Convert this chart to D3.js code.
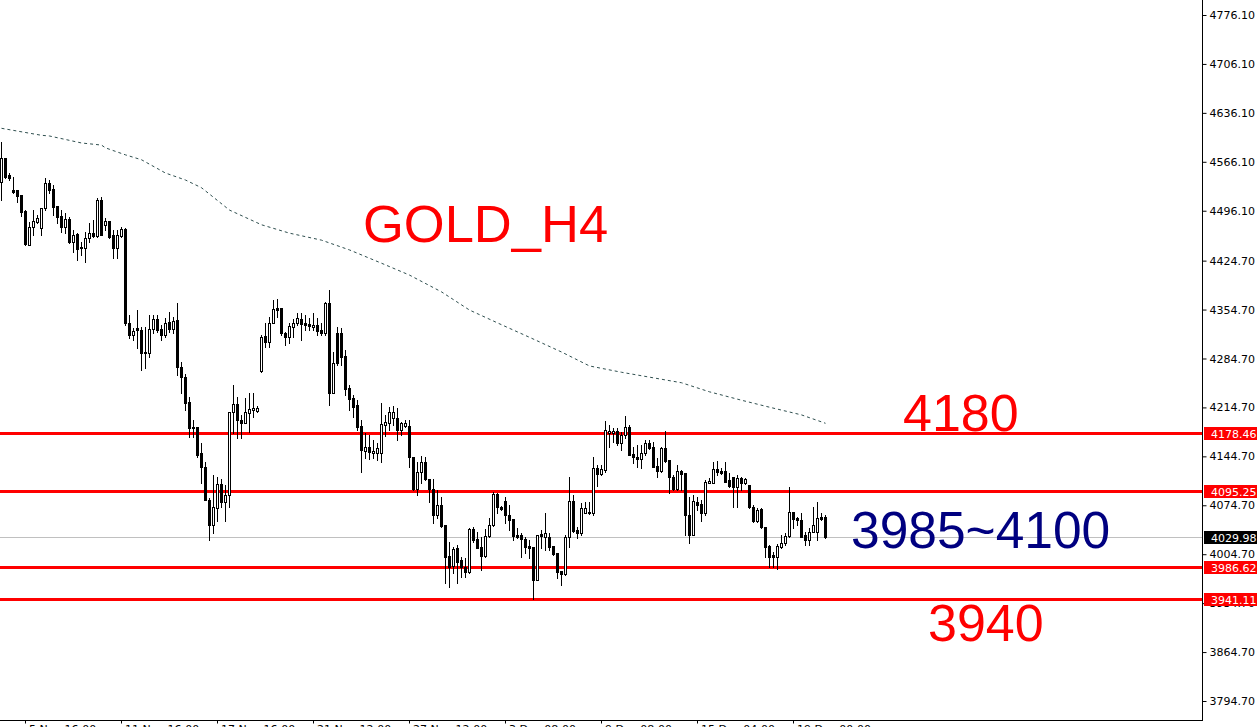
<!DOCTYPE html>
<html>
<head>
<meta charset="utf-8">
<script src="https://cdn.jsdelivr.net/npm/d3@7"></script>
<style>
  html, body { margin: 0; padding: 0; background: #fff; overflow: hidden; }
  svg { display: block; }
</style>
</head>
<body>
<svg id="chart"></svg>
<script>
// H4 candles, [open, high, low, close]
var ohlc = [
  [4537,4594,4512,4572],[4572,4572,4543,4544],[4547,4550,4540,4543],[4526,4544,4521,4523],[4526,4526,4509,4517],
  [4519,4519,4489,4494],[4496,4497,4447,4449],[4447,4480,4447,4473],[4473,4497,4461,4481],[4480,4490,4479,4486],
  [4471,4500,4461,4500],[4500,4543,4497,4536],[4536,4540,4521,4526],[4527,4533,4490,4501],[4503,4503,4479,4487],
  [4489,4497,4466,4473],[4473,4493,4464,4484],[4484,4487,4450,4451],[4451,4469,4437,4461],[4463,4464,4426,4441],
  [4444,4451,4433,4443],[4443,4466,4423,4457],[4457,4479,4451,4464],[4464,4483,4459,4460],[4460,4514,4459,4512],
  [4512,4516,4461,4461],[4476,4486,4469,4481],[4481,4481,4457,4459],[4461,4469,4428,4443],[4443,4469,4428,4461],
  [4460,4473,4459,4470],[4470,4471,4333,4335],[4335,4347,4314,4318],[4318,4328,4311,4324],[4328,4354,4300,4325],
  [4325,4330,4268,4293],[4294,4330,4271,4293],[4293,4347,4287,4327],[4327,4347,4321,4341],[4341,4347,4323,4325],
  [4327,4333,4311,4318],[4318,4342,4315,4335],[4337,4351,4323,4327],[4327,4344,4321,4338],[4340,4364,4261,4273],
  [4273,4280,4235,4258],[4258,4263,4211,4221],[4222,4230,4172,4185],[4187,4197,4172,4185],[4187,4187,4144,4147],
  [4150,4164,4107,4130],[4130,4137,4082,4082],[4082,4085,4025,4047],[4047,4118,4035,4072],[4071,4115,4052,4105],
  [4105,4112,4072,4079],[4079,4104,4052,4089],[4089,4208,4072,4208],[4208,4247,4178,4220],[4220,4230,4171,4197],
  [4197,4204,4171,4192],[4192,4228,4192,4208],[4207,4235,4180,4212],[4211,4235,4201,4214],[4210,4217,4208,4214],
  [4267,4318,4265,4315],[4317,4336,4301,4308],[4308,4344,4301,4336],[4336,4368,4336,4356],[4357,4370,4344,4354],
  [4357,4357,4318,4321],[4321,4323,4304,4315],[4315,4336,4307,4331],[4330,4341,4315,4336],[4336,4350,4333,4343],
  [4341,4350,4311,4334],[4336,4347,4325,4333],[4334,4343,4325,4331],[4330,4350,4325,4333],[4333,4343,4318,4324],
  [4325,4336,4318,4321],[4321,4366,4318,4364],[4364,4383,4218,4235],[4235,4294,4235,4278],[4321,4330,4275,4278],
  [4321,4328,4275,4287],[4288,4297,4233,4241],[4243,4247,4211,4227],[4228,4233,4201,4215],[4218,4225,4182,4187],
  [4188,4197,4122,4154],[4152,4178,4142,4158],[4158,4175,4141,4151],[4150,4168,4142,4152],[4150,4164,4140,4157],
  [4150,4221,4137,4191],[4190,4204,4174,4194],[4192,4215,4182,4208],[4200,4217,4190,4208],[4200,4214,4168,4182],
  [4182,4194,4175,4192],[4188,4197,4187,4192],[4188,4197,4130,4144],[4144,4144,4097,4098],[4098,4137,4089,4122],
  [4122,4145,4107,4137],[4137,4144,4111,4112],[4112,4112,4079,4098],[4098,4112,4049,4061],[4061,4097,4057,4075],
  [4075,4087,4044,4045],[4047,4047,3964,4001],[4002,4022,3958,3987],[3988,4015,3978,4012],[4014,4018,3964,3994],
  [3997,4001,3972,3987],[3987,3999,3972,3979],[3979,4042,3978,4041],[4041,4044,4022,4025],[4027,4037,4014,4014],
  [4015,4029,3982,4002],[4002,4041,4001,4031],[4031,4057,4029,4047],[4047,4094,4045,4091],[4091,4092,4064,4072],
  [4072,4074,4068,4069],[4081,4087,4049,4061],[4061,4075,4039,4054],[4055,4055,4025,4031],[4032,4042,4028,4029],
  [4032,4035,4001,4027],[4027,4029,4007,4015],[4017,4025,3999,4014],[4015,4015,3941,3968],[3968,4032,3968,4032],
  [4034,4039,4014,4031],[4029,4064,4011,4035],[4029,4035,4011,4015],[4017,4017,4004,4005],[4007,4007,3971,3979],
  [3981,3981,3961,3977],[3977,4032,3975,4029],[4029,4115,4015,4081],[4081,4089,4037,4038],[4039,4044,4028,4035],
  [4035,4078,4032,4071],[4064,4079,4064,4071],[4064,4079,4062,4065],[4064,4144,4061,4128],[4128,4132,4102,4120],
  [4120,4132,4118,4127],[4125,4195,4122,4182],[4178,4190,4158,4181],[4178,4185,4165,4181],[4181,4185,4161,4164],
  [4164,4180,4154,4175],[4175,4203,4171,4187],[4187,4190,4147,4147],[4148,4158,4135,4144],[4144,4161,4130,4141],
  [4141,4161,4128,4150],[4150,4168,4147,4164],[4164,4168,4155,4157],[4158,4165,4130,4130],[4131,4142,4115,4124],
  [4124,4158,4122,4157],[4157,4181,4137,4138],[4140,4140,4092,4115],[4115,4118,4097,4098],[4098,4132,4097,4124],
  [4124,4125,4097,4120],[4121,4121,4032,4061],[4061,4087,4021,4032],[4032,4089,4032,4081],[4079,4087,4068,4075],
  [4077,4082,4052,4064],[4064,4111,4061,4108],[4107,4114,4106,4110],[4107,4137,4106,4127],[4127,4138,4118,4122],
  [4124,4128,4120,4121],[4124,4137,4108,4108],[4111,4121,4101,4102],[4115,4115,4072,4101],[4101,4118,4072,4114],
  [4114,4115,4097,4107],[4107,4114,4105,4112],[4104,4104,4071,4072],[4072,4075,4051,4052],[4052,4071,4051,4068],
  [4069,4071,4042,4044],[4044,4044,4001,4015],[4017,4018,3987,4001],[4004,4008,3987,4001],[4001,4019,3984,4017],
  [4015,4032,4014,4021],[4021,4035,4018,4031],[4031,4101,4029,4065],[4065,4065,4042,4055],[4057,4058,4047,4054],
  [4054,4064,4029,4029],[4032,4036,4018,4025],[4025,4042,4018,4036],[4036,4072,4036,4047],[4036,4079,4025,4057],
  [4058,4064,4054,4055],[4058,4061,4028,4030]
];

// moving average, [bar index, value]
var maPoints = [
  [0,4614],[4,4610],[10,4604],[12,4603],[20,4593],[25,4590],[26,4586],[31,4576],[35,4569],[41,4550],
  [46,4540],[50,4529],[57,4497],[65,4476],[72,4464],[80,4454],[87,4440],[95,4421],[102,4404],[110,4380],
  [117,4354],[125,4333],[132,4315],[140,4294],[147,4274],[155,4265],[162,4258],[170,4250],[177,4237],
  [185,4225],[192,4215],[200,4204],[206,4192]
];

var levels = [4178.46, 4095.25, 3986.62, 3941.11];
var lastPrice = 4029.98;
var priceTicks = [4776.10, 4706.10, 4636.10, 4566.10, 4496.10, 4424.70, 4354.70, 4284.70,
  4214.70, 4144.70, 4074.70, 4004.70, 3934.70, 3864.70, 3794.70];
var timeTickBars = [6, 30, 54, 78, 102, 126, 150, 174, 198];
var timeTickLabels = ["5 Nov 16:00", "11 Nov 16:00", "17 Nov 16:00", "21 Nov 12:00", "27 Nov 12:00",
  "3 Dec 08:00", "9 Dec 08:00", "15 Dec 04:00", "19 Dec 00:00"];

var width = 1257, height = 727;
var axisX = 1202, axisY = 720;

var svg = d3.select("#chart").attr("width", width).attr("height", height);

var x = d3.scaleLinear().domain([0, ohlc.length - 1]).range([1.5, 1.5 + 4 * (ohlc.length - 1)]);
var y = d3.scaleLinear().domain([3794.70, 4776.10]).range([701, 15]);
var py = function (v) { return Math.round(y(v)); };

// current price line
svg.append("line")
  .attr("x1", 0).attr("x2", axisX)
  .attr("y1", py(lastPrice) + 0.5).attr("y2", py(lastPrice) + 0.5)
  .attr("stroke", "#c0c0c0").attr("stroke-width", 1);

// support / resistance levels
svg.selectAll(".level").data(levels).join("line")
  .attr("class", "level")
  .attr("x1", 0).attr("x2", axisX)
  .attr("y1", function (d) { return py(d) + 0.5; })
  .attr("y2", function (d) { return py(d) + 0.5; })
  .attr("stroke", "#ff0000").attr("stroke-width", 3);

// moving average
var maLine = d3.line()
  .x(function (d) { return x(d[0]); })
  .y(function (d) { return y(d[1]); });
svg.append("path")
  .attr("d", maLine(maPoints))
  .attr("fill", "none")
  .attr("stroke", "#2f4f4f")
  .attr("stroke-width", 1)
  .attr("stroke-dasharray", "3,3");

// candles
var cg = svg.append("g").attr("shape-rendering", "crispEdges");
cg.selectAll(".wick").data(ohlc).join("line")
  .attr("class", "wick")
  .attr("x1", function (d, i) { return x(i); })
  .attr("x2", function (d, i) { return x(i); })
  .attr("y1", function (d) { return py(d[1]); })
  .attr("y2", function (d) { return py(d[2]) + 1; })
  .attr("stroke", "#000").attr("stroke-width", 1);
cg.selectAll(".body").data(ohlc).join("rect")
  .attr("class", "body")
  .attr("x", function (d, i) { return x(i) - 1; })
  .attr("y", function (d) { return py(Math.max(d[0], d[3])) + 0.5; })
  .attr("width", 2)
  .attr("height", function (d) { return Math.max(py(Math.min(d[0], d[3])) - py(Math.max(d[0], d[3])), 1); })
  .attr("fill", function (d) { return d[3] >= d[0] ? "#fff" : "#000"; })
  .attr("stroke", "#000").attr("stroke-width", 1);

// price axis
var yAxis = d3.axisRight(y).tickValues(priceTicks).tickSize(4).tickPadding(3)
  .tickFormat(d3.format(".2f"));
var ya = svg.append("g").attr("transform", "translate(" + (axisX + 0.5) + ",0)").call(yAxis);
ya.select(".domain").remove();
ya.selectAll("line").attr("stroke", "#000");
ya.selectAll("text").attr("fill", "#000").style("font", "11px 'DejaVu Sans', sans-serif");

// time axis
var xAxis = d3.axisBottom(x).tickValues(timeTickBars).tickSize(3).tickPadding(2)
  .tickFormat(function (d, i) { return timeTickLabels[i]; });
var xa = svg.append("g").attr("transform", "translate(0," + (axisY + 0.5) + ")").call(xAxis);
xa.select(".domain").remove();
xa.selectAll(".tick line").attr("transform", "translate(-0.5,0)").attr("stroke", "#000");
xa.selectAll("text").attr("fill", "#000").attr("text-anchor", "start").attr("x", 3)
  .style("font", "11px 'DejaVu Sans', sans-serif");

// axis frame
svg.append("line").attr("x1", axisX + 0.5).attr("x2", axisX + 0.5).attr("y1", 0).attr("y2", axisY + 1)
  .attr("stroke", "#000");
svg.append("line").attr("x1", 0).attr("x2", axisX + 1).attr("y1", axisY + 0.5).attr("y2", axisY + 0.5)
  .attr("stroke", "#000");

// price tags on the axis
var tags = levels.map(function (v) { return { v: v, bg: "#ff0000" }; });
tags.push({ v: lastPrice, bg: "#000" });
var tg = svg.selectAll(".tag").data(tags).join("g").attr("class", "tag")
  .attr("transform", function (d) { return "translate(" + (axisX + 2) + "," + py(d.v) + ")"; });
tg.append("rect").attr("x", 0).attr("y", -6).attr("width", 55).attr("height", 13)
  .attr("fill", function (d) { return d.bg; });
tg.append("text").attr("x", 7).attr("y", 4.5).attr("fill", "#fff")
  .style("font", "11px 'DejaVu Sans', sans-serif")
  .text(function (d) { return d.v.toFixed(2); });

// annotations
var big = "'Liberation Sans', Arial, sans-serif";
svg.append("text").attr("x", 363).attr("y", 242).attr("fill", "#ff0000")
  .style("font-family", big).style("font-size", "52.5px").text("GOLD_H4");
svg.append("text").attr("x", 903).attr("y", 431).attr("fill", "#ff0000")
  .style("font-family", big).style("font-size", "52px").text("4180");
svg.append("text").attr("x", 851).attr("y", 548).attr("fill", "#000080")
  .style("font-family", big).style("font-size", "51.5px").text("3985~4100");
svg.append("text").attr("x", 928).attr("y", 641).attr("fill", "#ff0000")
  .style("font-family", big).style("font-size", "52px").text("3940");
</script>
</body>
</html>
